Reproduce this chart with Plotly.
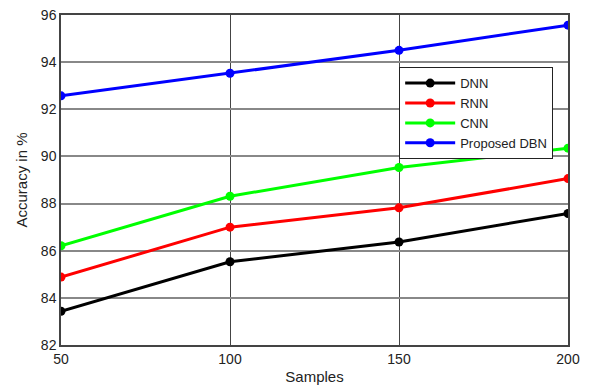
import plotly.graph_objects as go

samples = [50, 100, 150, 200]
dnn = [83.43, 85.53, 86.37, 87.58]
rnn = [84.88, 87.0, 87.82, 89.06]
cnn = [86.21, 88.31, 89.53, 90.35]
dbn = [92.57, 93.53, 94.5, 95.57]

series = [("DNN", dnn, "#000000"), ("RNN", rnn, "#ff0000"),
          ("CNN", cnn, "#00ff00"), ("Proposed DBN", dbn, "#0000ff")]

fig = go.Figure()
for name, vals, col in series:
    fig.add_trace(go.Scatter(x=samples, y=vals, name=name, mode="lines+markers",
                             line=dict(color=col, width=3),
                             marker=dict(color=col, size=9)))

font = dict(family="Liberation Sans, Arial, sans-serif", size=15, color="#222222")
fig.update_layout(
    width=595, height=388,
    margin=dict(l=53, r=35, t=7, b=51),
    paper_bgcolor="white", plot_bgcolor="white",
    font=font,
    showlegend=True,
    legend=dict(x=0.667, y=0.842, xanchor="left", yanchor="top",
                bordercolor="#222222", borderwidth=1, bgcolor="white",
                font=dict(family="Liberation Sans, Arial, sans-serif", size=13, color="#222222"),
                itemwidth=50, tracegroupgap=0),
    xaxis=dict(range=[50, 200], tickvals=[50, 100, 150, 200], showgrid=True,
               gridcolor="#444444", gridwidth=1, showline=True, linecolor="#444444",
               linewidth=1.5, mirror=True, zeroline=False, ticks="", automargin=False,
               ticklabeloverflow="allow", tickfont=dict(size=14),
               title=dict(text="Samples", standoff=6, font=dict(size=15))),
    yaxis=dict(range=[82, 96], tickvals=[82, 84, 86, 88, 90, 92, 94, 96], showgrid=True,
               gridcolor="#888888", gridwidth=1.5, showline=True, linecolor="#444444",
               linewidth=1.5, mirror=True, zeroline=False, ticks="", automargin=False,
               ticklabeloverflow="allow", tickfont=dict(size=14),
               title=dict(text="Accuracy in %", standoff=10, font=dict(size=15))),
)
fig.write_html("out.html")
